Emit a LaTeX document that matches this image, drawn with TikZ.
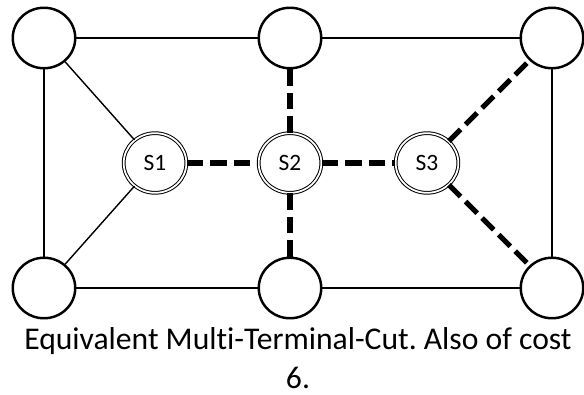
\documentclass[tikz,border=0pt]{standalone}
\usepackage{fontspec}
\setmainfont[Ligatures=NoCommon]{Carlito}
\usepackage{tikz}
\usetikzlibrary{shapes.geometric, positioning}

\begin{document}
\frenchspacing
\begin{tikzpicture}[
		vertex/.style={draw, ellipse, line width=2.1pt, minimum width=1.875cm, minimum height=1.815cm, inner sep=0pt},
		terminal/.style={draw, ellipse, line width=0.85pt, double, double distance=1.5pt, minimum width=1.88cm, minimum height=1.79cm, inner sep=0pt, font=\fontsize{20}{24}\selectfont},
		edge/.style={line width=1.2pt},
		cutedge/.style={line width=4.3pt, dash pattern=on 14pt off 6pt}
	]
		\useasboundingbox (0,0) rectangle (17.52,11.82);

		% Outer ring of vertices
		\node[vertex] (tl) at (1.32,10.68) {};
		\node[vertex] (tm) at (8.70,10.68) {};
		\node[vertex] (tr) at (16.56,10.68) {};
		\node[vertex] (bl) at (1.32,3.18) {};
		\node[vertex] (bm) at (8.70,3.18) {};
		\node[vertex] (br) at (16.56,3.18) {};

		% Terminals
		\node[terminal] (s1) at (4.65,6.93) {S1};
		\node[terminal] (s2) at (8.70,6.93) {S2};
		\node[terminal] (s3) at (12.81,6.93) {S3};

		% Uncut edges
		\draw[edge] (tl) -- (tm);
		\draw[edge] (tm) -- (tr);
		\draw[edge] (bl) -- (bm);
		\draw[edge] (bm) -- (br);
		\draw[edge] (tl) -- (bl);
		\draw[edge] (tr) -- (br);
		\draw[edge] (tl) -- (s1);
		\draw[edge] (bl) -- (s1);

		% Cut edges
		\draw[cutedge] (s1) -- (s2);
		\draw[cutedge] (s2) -- (s3);
		\draw[cutedge] (tm) -- (s2);
		\draw[cutedge] (s2) -- (bm);
		\draw[cutedge] (s3) -- (tr);
		\draw[cutedge] (s3) -- (br);

		% Caption
		\node[align=center, anchor=north, inner sep=0pt, font=\fontsize{27}{33}\selectfont] (caption) at (8.94,2.0) {Equivalent Multi-Terminal-Cut. Also of cost\\6.};

	\end{tikzpicture}
\end{document}
